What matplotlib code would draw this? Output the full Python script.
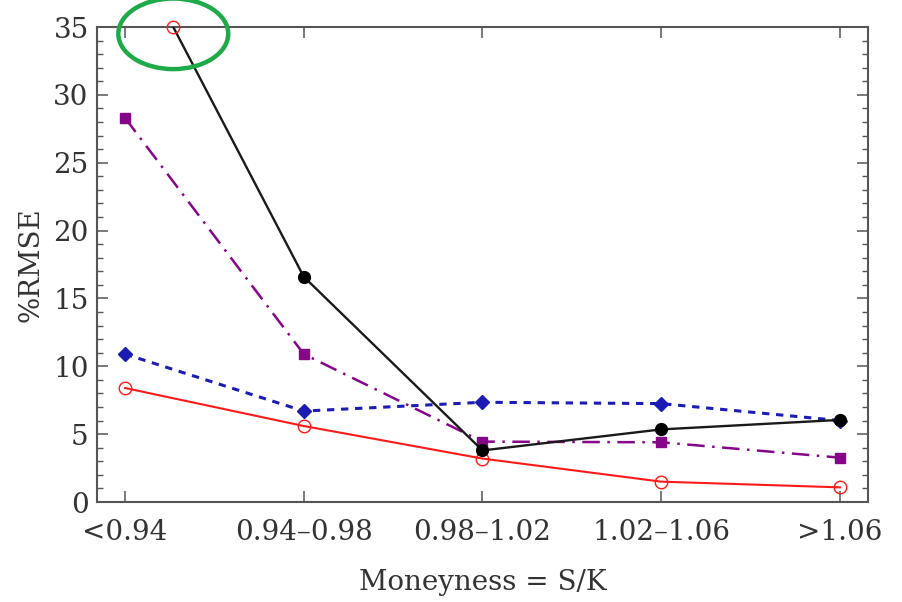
import numpy as np
import matplotlib
matplotlib.use("Agg")
import matplotlib.pyplot as plt
from matplotlib.patches import Ellipse
from matplotlib.ticker import MultipleLocator

# moneyness buckets
categories = ["<0.94", "0.94\u20130.98", "0.98\u20131.02", "1.02\u20131.06", ">1.06"]

# %RMSE per model
red_vals = [8.4, 5.6, 3.2, 1.5, 1.08]
blue_vals = [10.9, 6.7, 7.35, 7.25, 6.0]
purple_vals = [28.3, 10.9, 4.45, 4.4, 3.27]
black_vals = [41.8, 16.6, 3.8, 5.35, 6.05]

y_top = 35

plt.rcParams["font.family"] = ["DejaVu Serif"]

fig = plt.figure(figsize=(9.03, 6.02), dpi=100)
ax = fig.add_axes([0.1074, 0.1661, 0.8538, 0.789])

x = np.arange(len(categories))

ax.plot(x, red_vals, color="#ff1a1a", lw=1.5, marker="o", ms=9,
        mfc="none", mec="#ff1a1a", mew=1.0, zorder=3)
ax.plot(x, blue_vals, color="#1c1cb4", lw=2.2, ls=(0, (2.4, 2.2)),
        marker="D", ms=7, mfc="#1c1cb4", mec="#1c1cb4", zorder=4)
ax.plot(x, purple_vals, color="#86068a", lw=1.8, ls=(0, (7, 3, 1, 3)),
        marker="s", ms=6.5, mfc="#86068a", mec="#86068a", zorder=5)
ax.plot(x, black_vals, color="#1a1a1a", lw=1.7, marker="o", ms=8.5,
        mfc="black", mec="black", zorder=6)

# where the black curve leaves the top of the plot
t = (black_vals[0] - y_top) / (black_vals[0] - black_vals[1])
x_cut = x[0] + t * (x[1] - x[0])
ax.plot([x_cut], [y_top], marker="o", ms=9, mfc="none", mec="#ff1a1a",
        mew=1.0, clip_on=False, zorder=7)
ax.add_patch(Ellipse((x_cut, y_top - 0.5), 0.615, 5.2, fill=False,
                     ec="#1faa4a", lw=3.2, clip_on=False, zorder=8))

ax.set_xlim(-0.157, 4.157)
ax.set_ylim(0, y_top)
ax.set_xticks(x)
ax.set_xticklabels(categories)
ax.yaxis.set_major_locator(MultipleLocator(5))
ax.yaxis.set_minor_locator(MultipleLocator(1))

ax.tick_params(axis="both", which="both", direction="in", top=True,
               right=True, color="#555555", labelsize=20, labelcolor="#333333")
ax.tick_params(axis="both", which="major", length=8, width=1.1)
ax.tick_params(axis="y", which="minor", length=4, width=1.0)
ax.tick_params(axis="x", pad=12)
ax.tick_params(axis="y", pad=6)

for s in ax.spines.values():
    s.set_color("#555555")
    s.set_linewidth(1.5)

ax.set_xlabel("Moneyness = S/K", fontsize=20, color="#333333", labelpad=17)
ax.set_ylabel("%RMSE", fontsize=20, color="#333333", labelpad=6)

fig.savefig("out.png", dpi=100)
